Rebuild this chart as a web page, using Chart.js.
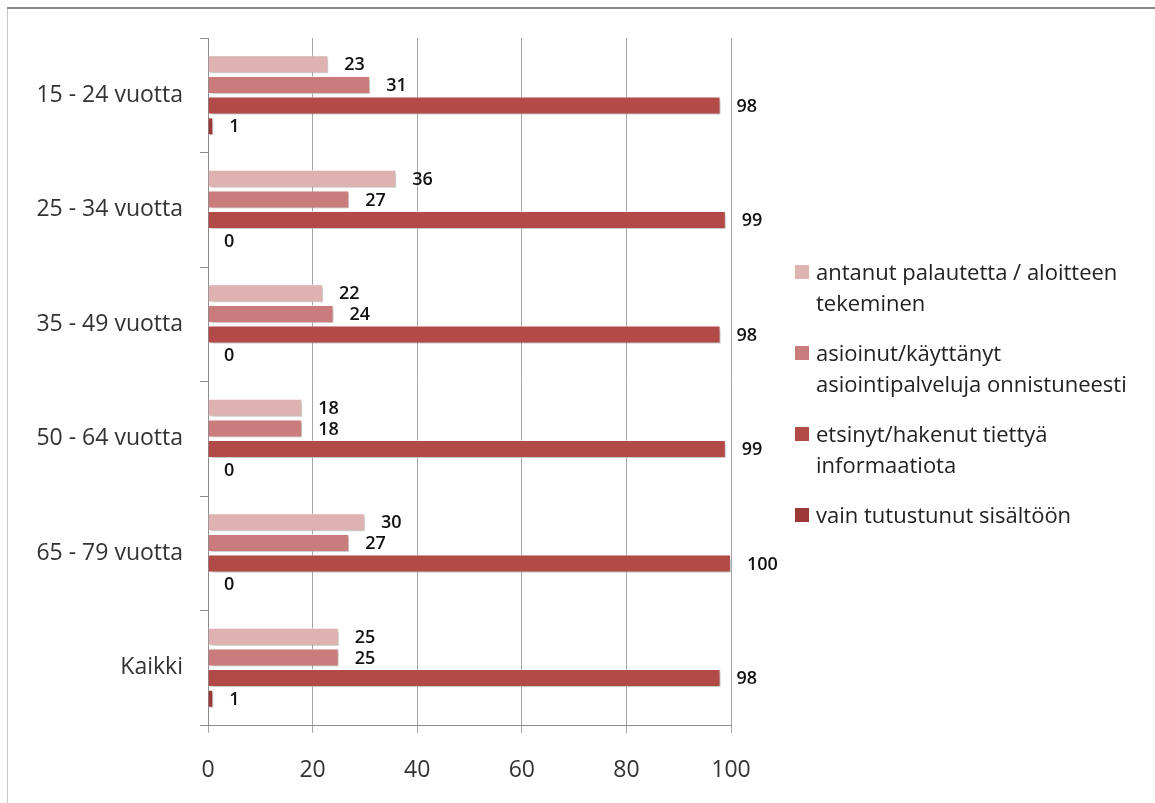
<!DOCTYPE html>
<html>
    <head>
        <title>Verkkopalvelun käyttö ikäryhmittäin</title>
        <meta charset="utf-8">
        <script src="https://cdn.jsdelivr.net/npm/chart.js@4.4.1/dist/chart.umd.min.js"></script>
        <style>
            body { margin: 0; background: #fff; }
            .chart-container { position: relative; width: 1155px; height: 803px; }
        </style>
    </head>
    <body>
        <div class="chart-container">
            <canvas id="myChart"></canvas>
        </div>

        <script>
            // age groups (top to bottom)
            var categories = ['15 - 24 vuotta', '25 - 34 vuotta', '35 - 49 vuotta', '50 - 64 vuotta', '65 - 79 vuotta', 'Kaikki'];

            // series values, %
            var antanut   = [23, 36, 22, 18, 30, 25];
            var asioinut  = [31, 27, 24, 18, 27, 25];
            var etsinyt   = [98, 99, 98, 99, 100, 98];
            var tutustunut = [1, 0, 0, 0, 0, 1];

            // legend texts, split in lines like the original
            var seriesNames = [
                ['antanut palautetta / aloitteen', 'tekeminen'],
                ['asioinut/käyttänyt', 'asiointipalveluja onnistuneesti'],
                ['etsinyt/hakenut tiettyä', 'informaatiota'],
                ['vain tutustunut sisältöön']
            ];
            var xTicks = [0, 20, 40, 60, 80, 100];

            var colors = ['#DDB2B1', '#C97C7B', '#B24A48', '#9C3838'];
            var FONT = '"Open Sans", Lato, "DejaVu Sans", sans-serif';

            // outer frame like the pasted picture
            var framePlugin = {
                id: 'frame',
                beforeDraw: function(chart) {
                    var c = chart.ctx;
                    c.save();
                    c.fillStyle = '#fff';
                    c.fillRect(0, 0, chart.width, chart.height);
                    c.fillStyle = '#888';
                    c.fillRect(7, 7, chart.width - 7, 2);
                    c.fillStyle = '#c8c8c8';
                    c.fillRect(7, 9, 1, chart.height - 9);
                    c.restore();
                }
            };

            // soft shadow under the bars
            var shadowPlugin = {
                id: 'barShadow',
                beforeDatasetsDraw: function(chart) {
                    var c = chart.ctx;
                    c.save();
                    c.shadowColor = 'rgba(0,0,0,0.28)';
                    c.shadowBlur = 3;
                    c.shadowOffsetX = 2;
                    c.shadowOffsetY = 2;
                },
                afterDatasetsDraw: function(chart) {
                    chart.ctx.restore();
                }
            };

            // value labels to the right of each bar
            var valueLabels = {
                id: 'valueLabels',
                afterDatasetsDraw: function(chart) {
                    var c = chart.ctx;
                    c.save();
                    c.font = '600 18px ' + FONT;
                    c.fillStyle = '#111';
                    c.textAlign = 'left';
                    c.textBaseline = 'middle';
                    chart.data.datasets.forEach(function(ds, i) {
                        chart.getDatasetMeta(i).data.forEach(function(bar, j) {
                            c.fillText(ds.data[j], bar.x + 16, bar.y + 1);
                        });
                    });
                    c.restore();
                }
            };

            // legend on the right, multi-line items
            var sideLegend = {
                id: 'sideLegend',
                afterDraw: function(chart) {
                    var c = chart.ctx;
                    var x = 795, y = 280;
                    c.save();
                    c.font = '22px ' + FONT;
                    c.textBaseline = 'alphabetic';
                    chart.data.datasets.forEach(function(ds) {
                        c.fillStyle = ds.backgroundColor;
                        c.fillRect(x, y - 15, 14, 14);
                        c.fillStyle = '#222';
                        ds.legendLines.forEach(function(line, k) {
                            c.fillText(line, x + 21, y + k * 31);
                        });
                        y += 81;
                    });
                    c.restore();
                }
            };

            var datasets = [antanut, asioinut, etsinyt, tutustunut].map(function(vals, i) {
                return {
                    label: seriesNames[i].join(' '),
                    legendLines: seriesNames[i],
                    data: vals,
                    backgroundColor: colors[i],
                    borderColor: 'rgba(255,255,255,0.6)',
                    borderWidth: 1,
                    categoryPercentage: 0.723,
                    barPercentage: 0.87
                };
            });

            var ctx = document.getElementById('myChart').getContext('2d');
            var chart = new Chart(ctx, {
                type: 'bar',
                data: {
                    labels: categories,
                    datasets: datasets
                },
                options: {
                    indexAxis: 'y',
                    responsive: true,
                    maintainAspectRatio: false,
                    animation: false,
                    layout: { padding: { top: 38, right: 424, bottom: 0, left: 0 } },
                    plugins: {
                        legend: { display: false },
                        tooltip: { enabled: false }
                    },
                    scales: {
                        x: {
                            min: 0,
                            max: 100,
                            afterFit: function(scale) { scale.height = 78; },
                            afterBuildTicks: function(scale) {
                                scale.ticks = xTicks.map(function(v) { return { value: v }; });
                            },
                            grid: { color: '#a6a6a6', lineWidth: 1, tickLength: 8 },
                            border: { color: '#8c8c8c' },
                            ticks: {
                                color: '#333',
                                padding: 24,
                                font: { family: FONT, size: 23 }
                            }
                        },
                        y: {
                            afterFit: function(scale) { scale.width = 208; },
                            grid: { drawOnChartArea: false, color: '#8c8c8c', tickLength: 8, offset: true },
                            border: { color: '#8c8c8c' },
                            ticks: {
                                color: '#333',
                                padding: 17,
                                font: { family: FONT, size: 23 }
                            }
                        }
                    }
                },
                plugins: [framePlugin, shadowPlugin, valueLabels, sideLegend]
            });
        </script>
    </body>
</html>
